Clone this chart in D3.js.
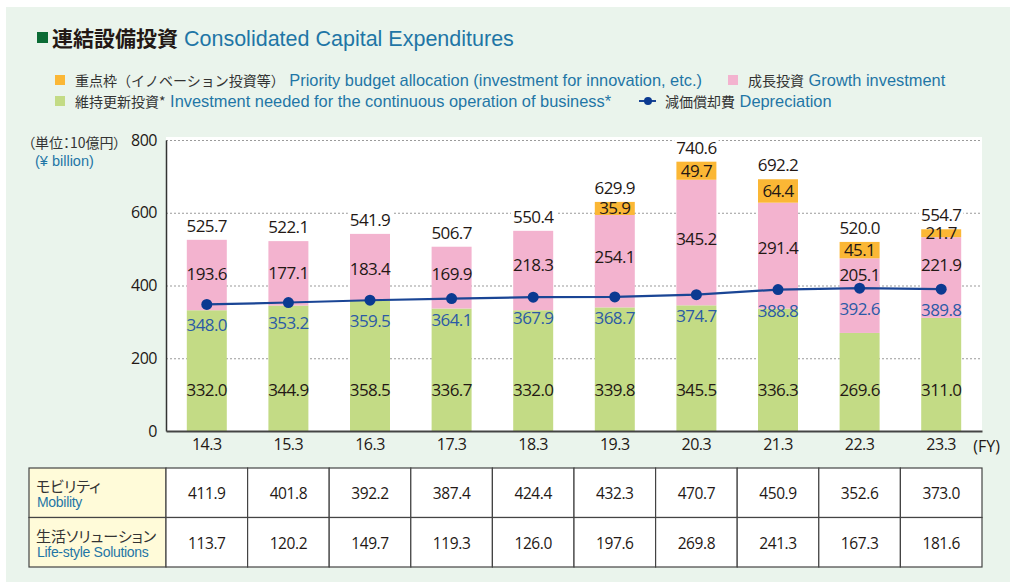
<!DOCTYPE html>
<html>
<head>
<meta charset="utf-8">
<script src="https://cdn.jsdelivr.net/npm/d3@7"></script>
<style>
  body { margin: 0; background: #fff; }
  svg { display: block; }
</style>
</head>
<body>
<div id="capex-chart"></div>
<script>
// fiscal years and the stacked series (¥ billion)
const categories = ["14.3", "15.3", "16.3", "17.3", "18.3", "19.3", "20.3", "21.3", "22.3", "23.3"];
const maintenance = [332.0, 344.9, 358.5, 336.7, 332.0, 339.8, 345.5, 336.3, 269.6, 311.0];
const growth = [193.6, 177.1, 183.4, 169.9, 218.3, 254.1, 345.2, 291.4, 205.1, 221.9];
const priority = [0, 0, 0, 0, 0, 35.9, 49.7, 64.4, 45.1, 21.7];
const totals = [525.7, 522.1, 541.9, 506.7, 550.4, 629.9, 740.6, 692.2, 520.0, 554.7];
const depreciation = [348.0, 353.2, 359.5, 364.1, 367.9, 368.7, 374.7, 388.8, 392.6, 389.8];
const yTicks = [0, 200, 400, 600, 800];

// table under the chart
const mobility = [411.9, 401.8, 392.2, 387.4, 424.4, 432.3, 470.7, 450.9, 352.6, 373.0];
const lifestyle = [113.7, 120.2, 149.7, 119.3, 126.0, 197.6, 269.8, 241.3, 167.3, 181.6];

const width = 1010, height = 582;
const plot = { left: 166, right: 982, top: 140, bottom: 431 };

const numFont = "'Open Sans', 'Noto Sans', sans-serif";
const latinFont = "'Liberation Sans', Arial, sans-serif";
const cjkFont = "'Noto Sans CJK JP', 'Noto Sans', sans-serif";
const blue = "#1f76a6";
const dark = "#231815";

const colors = {
  maintenance: "#c3db85",
  growth: "#f3b3cf",
  priority: "#fbb735",
  line: "#1a4595",
  dot: "#0b3a91",
  depLabel: "#2b5aa6",
};

const svg = d3
  .select("#capex-chart")
  .append("svg")
  .attr("width", width)
  .attr("height", height);

// green panel + white plot area
svg.append("rect").attr("x", 6).attr("y", 7).attr("width", width - 6).attr("height", height - 7).attr("fill", "#eaf4ec");
svg.append("rect")
  .attr("x", plot.left).attr("y", plot.top - 3)
  .attr("width", plot.right - plot.left).attr("height", plot.bottom - plot.top + 3)
  .attr("fill", "#fff");

// scales
const x = d3.scaleBand().domain(categories).range([plot.left, plot.right]).paddingInner(0.51).paddingOuter(0.255);
const y = d3.scaleLinear().domain([0, 800]).range([plot.bottom, plot.top]);
const col = d3.scaleBand().domain(categories).range([plot.left, plot.right]);

// title
svg.append("rect").attr("x", 37).attr("y", 32).attr("width", 11).attr("height", 11).attr("fill", "#0b6b35");
const title = svg.append("text").attr("x", 52).attr("y", 45.5).style("font-size", "21px");
title.append("tspan").style("font-family", cjkFont).style("font-weight", "bold").attr("fill", dark).text("連結設備投資");
title.append("tspan").style("font-family", latinFont).style("font-size", "21.5px").attr("fill", blue).text(" Consolidated Capital Expenditures");

// legend
function legendItem(px, py, jp, en, color, isLine) {
  if (isLine) {
    svg.append("line").attr("x1", px - 16).attr("x2", px + 1).attr("y1", py).attr("y2", py)
      .attr("stroke", colors.line).attr("stroke-width", 2);
    svg.append("circle").attr("cx", px - 7).attr("cy", py).attr("r", 4).attr("fill", colors.dot);
  } else {
    svg.append("rect").attr("x", px - 10).attr("y", py - 5).attr("width", 10).attr("height", 10).attr("fill", color);
  }
  const t = svg.append("text").attr("x", px + 10).attr("y", py + 5.5);
  t.append("tspan").style("font-family", cjkFont).style("font-size", "14px").attr("fill", "#333").text(jp);
  t.append("tspan").style("font-family", latinFont).style("font-size", "16.4px").attr("fill", blue).text(" " + en);
}
legendItem(65, 80, "重点枠（イノベーション投資等）", "Priority budget allocation (investment for innovation, etc.)", colors.priority);
legendItem(738, 80, "成長投資", "Growth investment", colors.growth);
legendItem(655, 101, "減価償却費", "Depreciation", null, true);
legendItem(65, 101, "維持更新投資*", "Investment needed for the continuous operation of business*", colors.maintenance);

// unit
svg.append("text").attr("x", 28).attr("y", 148).style("font-family", cjkFont).style("font-size", "14px")
  .style("font-feature-settings", "'palt'").attr("fill", "#333").text("（単位：10億円）");
svg.append("text").attr("x", 35).attr("y", 166).style("font-family", latinFont).style("font-size", "14.5px")
  .attr("fill", blue).text("(¥ billion)");

// gridlines
const grid = svg.append("g")
  .attr("transform", `translate(${plot.left},0)`)
  .call(d3.axisLeft(y).tickValues(yTicks.filter((d) => d > 0)).tickSize(-(plot.right - plot.left)).tickFormat(""));
grid.select(".domain").remove();
grid.selectAll(".tick line").attr("stroke", "#9a9a9a").attr("stroke-width", 1.2).attr("stroke-dasharray", "2,2");

// stacked bars
const rows = categories.map(function (c, i) {
  return { year: c, maintenance: maintenance[i], growth: growth[i], priority: priority[i] };
});
const series = d3.stack().keys(["maintenance", "growth", "priority"])(rows);

svg.append("g")
  .selectAll("g")
  .data(series)
  .enter()
  .append("g")
  .attr("fill", function (d) { return colors[d.key]; })
  .selectAll("rect")
  .data(function (d) { return d; })
  .enter()
  .append("rect")
  .attr("x", function (d) { return x(d.data.year); })
  .attr("width", x.bandwidth())
  .attr("y", function (d) { return y(d[1]); })
  .attr("height", function (d) { return y(d[0]) - y(d[1]); });

// depreciation line
const cx = function (c) { return x(c) + x.bandwidth() / 2; };
const line = d3.line()
  .x(function (d, i) { return cx(categories[i]); })
  .y(function (d) { return y(d); });
svg.append("path").datum(depreciation)
  .attr("d", line).attr("fill", "none").attr("stroke", colors.line).attr("stroke-width", 2.2);
svg.append("g").selectAll("circle").data(depreciation).enter().append("circle")
  .attr("cx", function (d, i) { return cx(categories[i]); })
  .attr("cy", function (d) { return y(d); })
  .attr("r", 5.5)
  .attr("fill", colors.dot);

// value labels
const labels = svg.append("g")
  .style("font-family", numFont).style("font-size", "17px").style("letter-spacing", "-0.6px")
  .attr("text-anchor", "middle");

categories.forEach(function (c, i) {
  const m = maintenance[i], g = growth[i], p = priority[i];
  const xc = cx(c);
  // maintenance
  labels.append("text").attr("x", xc).attr("y", y(0) - 41).attr("dy", "0.35em").attr("fill", dark).text(m.toFixed(1));
  // growth: centred in the part of the pink bar above the depreciation point
  const gTop = y(m + g);
  const gBottom = Math.min(y(m), y(depreciation[i]));
  labels.append("text").attr("x", xc).attr("y", (gTop + gBottom) / 2 + 1.5).attr("dy", "0.35em").attr("fill", dark).text(g.toFixed(1));
  // priority
  if (p > 0) {
    labels.append("text").attr("x", xc).attr("y", (y(m + g) + y(m + g + p)) / 2).attr("dy", "0.35em").attr("fill", dark).text(p.toFixed(1));
  }
  // depreciation
  labels.append("text").attr("x", xc).attr("y", y(depreciation[i]) + 21).attr("dy", "0.35em").attr("fill", colors.depLabel).text(depreciation[i].toFixed(1));
  // total with white backing
  const tg = labels.append("g");
  const tt = tg.append("text").attr("x", xc).attr("y", y(totals[i]) - 14).attr("dy", "0.35em").attr("fill", dark).text(totals[i].toFixed(1));
  const bb = tt.node().getBBox();
  tg.insert("rect", "text").attr("x", bb.x - 2).attr("y", bb.y + 3).attr("width", bb.width + 4).attr("height", bb.height - 6).attr("fill", "#fff");
});

// axes
const yAxis = svg.append("g")
  .attr("transform", `translate(${plot.left},0)`)
  .call(d3.axisLeft(y).tickValues(yTicks).tickSize(0).tickSizeOuter(0).tickPadding(9));
yAxis.select(".domain").attr("stroke", "#333").attr("stroke-width", 1.5);
yAxis.selectAll("text").style("font-family", numFont).style("font-size", "16px").style("letter-spacing", "-0.5px").attr("fill", dark);

const xAxis = svg.append("g")
  .attr("transform", `translate(0,${plot.bottom})`)
  .call(d3.axisBottom(x).tickSize(0).tickSizeOuter(0).tickPadding(8));
xAxis.select(".domain").attr("stroke", "#444").attr("stroke-width", 2);
xAxis.selectAll("text").style("font-family", numFont).style("font-size", "16px").style("letter-spacing", "-0.5px").attr("fill", dark);
svg.append("text").attr("x", 1000).attr("y", plot.bottom + 21).attr("text-anchor", "end")
  .style("font-family", numFont).style("font-size", "16px").attr("fill", dark).text("(FY)");

// table
const tableTop = 468, rowH = 49.5, tableLeft = 29;
const tableRows = [
  { jp: "モビリティ", en: "Mobility", values: mobility },
  { jp: "生活ソリューション", en: "Life-style Solutions", values: lifestyle },
];
const table = svg.append("g");
tableRows.forEach(function (r, ri) {
  const ty = tableTop + ri * rowH;
  table.append("rect").attr("x", tableLeft).attr("y", ty).attr("width", plot.left - tableLeft).attr("height", rowH)
    .attr("fill", "#fffbd9").attr("stroke", "#444").attr("stroke-width", 1.2);
  table.append("text").attr("x", 36).attr("y", ty + 24).style("font-family", cjkFont).style("font-size", "15px")
    .style("font-feature-settings", "'palt'").attr("fill", "#333").text(r.jp);
  table.append("text").attr("x", 37).attr("y", ty + 39).style("font-family", latinFont).style("font-size", "14px")
    .style("letter-spacing", "-0.3px").attr("fill", blue).text(r.en);
  r.values.forEach(function (v, i) {
    table.append("rect").attr("x", col(categories[i])).attr("y", ty).attr("width", col.bandwidth()).attr("height", rowH)
      .attr("fill", "#fff").attr("stroke", "#444").attr("stroke-width", 1.2);
    table.append("text").attr("x", col(categories[i]) + col.bandwidth() / 2).attr("y", ty + rowH / 2 + 1).attr("dy", "0.35em")
      .attr("text-anchor", "middle").style("font-family", numFont).style("font-size", "15.5px").style("letter-spacing", "-0.4px")
      .attr("fill", dark).text(v.toFixed(1));
  });
});
</script>
</body>
</html>
